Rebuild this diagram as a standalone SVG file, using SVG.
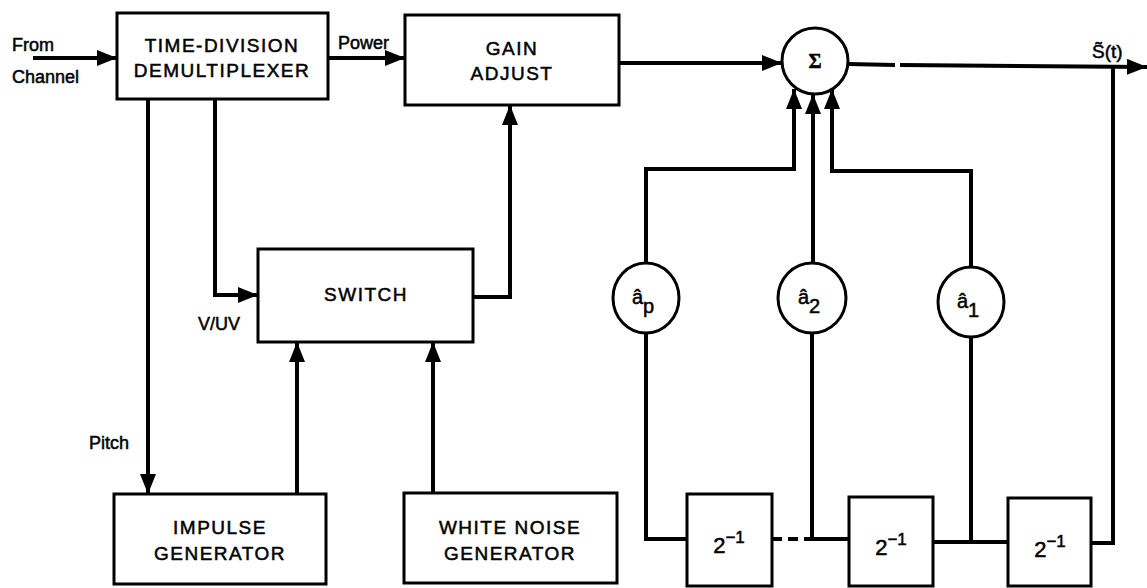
<svg xmlns="http://www.w3.org/2000/svg" width="1147" height="588" viewBox="0 0 1147 588">
<defs>
<marker id="arr" markerUnits="userSpaceOnUse" markerWidth="22" markerHeight="16" refX="20" refY="8" orient="auto">
<path d="M0,0 L20,8 L0,16 z" fill="#000"/>
</marker>
<style>
.box{fill:#fff;stroke:#000;stroke-width:3}
.c{fill:#fff;stroke:#000;stroke-width:3}
.t{font-family:"Liberation Sans",Arial,sans-serif;font-size:19px;letter-spacing:1.5px;text-anchor:middle;fill:#000;stroke:#000;stroke-width:0.5}
.l{font-family:"Liberation Sans",Arial,sans-serif;font-size:18px;fill:#000;stroke:#000;stroke-width:0.5}
.w{fill:none;stroke:#000;stroke-width:4;stroke-linejoin:miter}
.a{fill:none;stroke:#000;stroke-width:4;marker-end:url(#arr)}
</style>
</defs>
<rect width="1147" height="588" fill="#fff"/>
<g id="connectors">
<path class="a" d="M33,58 H117"/>
<path class="a" d="M328,58 H405"/>
<path class="a" d="M619,63 H782"/>
<path class="w" d="M848,64 L895,65"/>
<path class="a" d="M900,65 L1147,67"/>
<path class="w" d="M1113,66 V543 H1091"/>
<path class="w" d="M933,542 H1008"/>
<path class="w" d="M971,335 V542"/>
<path class="w" d="M812,332 V539 H849"/>
<path class="w" d="M772,539 H812" stroke-dasharray="10,6"/>
<path class="w" d="M646,331 V539 H687"/>
<path class="a" d="M646,265 V169 H794 V89"/>
<path class="a" d="M813,264 V94"/>
<path class="a" d="M971,269 V171 H832 V89"/>
<path class="a" d="M215,99 V295 H258"/>
<path class="a" d="M148,99 V494"/>
<path class="a" d="M297,494 V342"/>
<path class="a" d="M433,493 V342"/>
<path class="a" d="M473,297 H510 V105"/>
</g>
<g id="labels">
<text class="l" x="12" y="51">From</text>
<text class="l" x="12" y="83">Channel</text>
<text class="l" x="338" y="49">Power</text>
<text class="l" x="198" y="330">V/UV</text>
<text class="l" x="89" y="449">Pitch</text>
<text class="l" x="1092" y="58" style="font-size:19px">S̃(t)</text>
</g>
<g id="tdm">
<rect class="box" x="117" y="13" width="211" height="86"/>
<text class="t" x="222" y="52">TIME-DIVISION</text>
<text class="t" x="222" y="77">DEMULTIPLEXER</text>
</g>
<g id="gain">
<rect class="box" x="405" y="15" width="214" height="90"/>
<text class="t" x="512" y="55">GAIN</text>
<text class="t" x="512" y="80">ADJUST</text>
</g>
<g id="sum">
<circle class="c" cx="815" cy="61" r="33"/>
<text class="t" x="815" y="68" style="font-family:'Liberation Serif',serif;font-size:20px;font-weight:bold;letter-spacing:0">Σ</text>
</g>
<g id="switch">
<rect class="box" x="258" y="249" width="215" height="93"/>
<text class="t" x="366" y="301">SWITCH</text>
</g>
<g id="impulse">
<rect class="box" x="114" y="494" width="212" height="90"/>
<text class="t" x="220" y="534">IMPULSE</text>
<text class="t" x="220" y="560">GENERATOR</text>
</g>
<g id="noise">
<rect class="box" x="404" y="493" width="213" height="90"/>
<text class="t" x="510" y="534">WHITE NOISE</text>
<text class="t" x="510" y="560">GENERATOR</text>
</g>
<g id="ap">
<ellipse class="c" cx="646" cy="298" rx="33" ry="35"/>
<text class="t" x="643" y="304" style="letter-spacing:0;font-size:20px">â<tspan dy="9">p</tspan></text>
</g>
<g id="a2">
<ellipse class="c" cx="812" cy="298" rx="34" ry="35"/>
<text class="t" x="809" y="304" style="letter-spacing:0;font-size:20px">â<tspan dy="9">2</tspan></text>
</g>
<g id="a1">
<ellipse class="c" cx="971" cy="302" rx="33" ry="35"/>
<text class="t" x="968" y="308" style="letter-spacing:0;font-size:20px">â<tspan dy="9">1</tspan></text>
</g>
<g id="d1">
<rect class="box" x="687" y="494" width="85" height="92"/>
<text class="t" x="729" y="553" style="letter-spacing:0;font-size:22px">2<tspan dy="-10" font-size="17">−1</tspan></text>
</g>
<g id="d2">
<rect class="box" x="849" y="497" width="84" height="89"/>
<text class="t" x="891" y="555" style="letter-spacing:0;font-size:22px">2<tspan dy="-10" font-size="17">−1</tspan></text>
</g>
<g id="d3">
<rect class="box" x="1008" y="498" width="83" height="88"/>
<text class="t" x="1050" y="557" style="letter-spacing:0;font-size:22px">2<tspan dy="-10" font-size="17">−1</tspan></text>
</g>
</svg>
